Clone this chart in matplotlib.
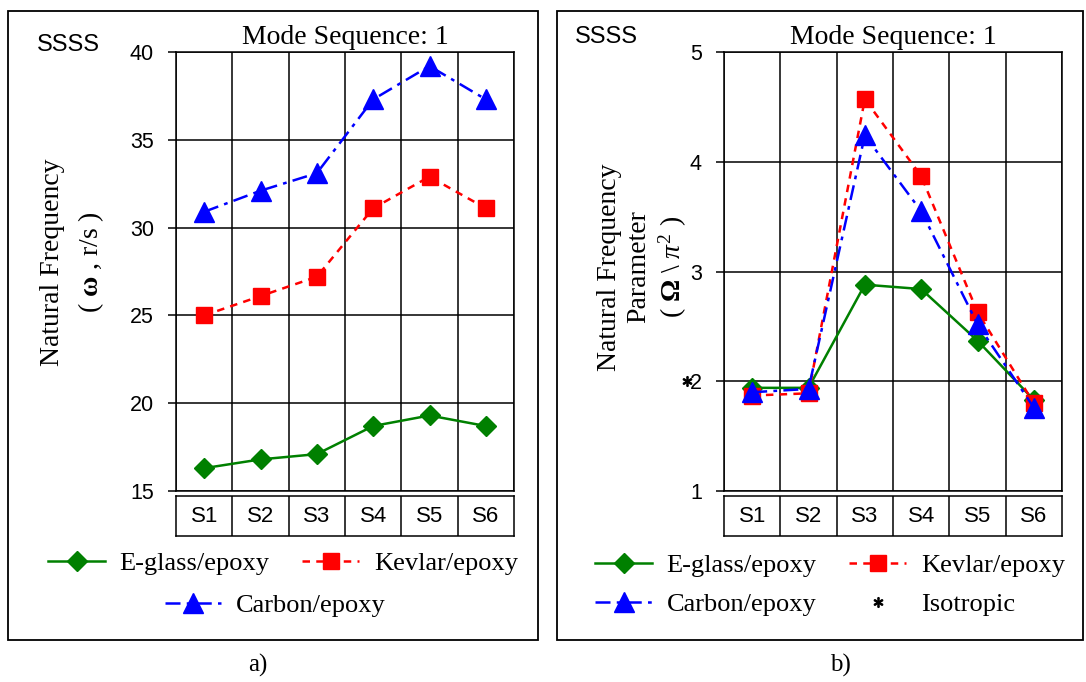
import matplotlib
matplotlib.use('Agg')
import matplotlib.pyplot as plt
from matplotlib.lines import Line2D
from matplotlib.patches import Rectangle
import numpy as np

plt.rcParams['font.family'] = ['Liberation Serif', 'DejaVu Serif']
plt.rcParams['mathtext.fontset'] = 'custom'
plt.rcParams['mathtext.rm'] = 'Liberation Serif'
plt.rcParams['mathtext.it'] = 'Liberation Serif:italic'
plt.rcParams['mathtext.bf'] = 'Liberation Serif:bold'

sequences = ['S1', 'S2', 'S3', 'S4', 'S5', 'S6']

# natural frequency (r/s)
freq_eglass = [16.3, 16.8, 17.1, 18.7, 19.3, 18.7]
freq_kevlar = [25.0, 26.1, 27.2, 31.1, 32.9, 31.1]
freq_carbon = [30.9, 32.1, 33.1, 37.3, 39.2, 37.3]

# natural frequency parameter (Omega / pi^2)
param_eglass = [1.94, 1.94, 2.88, 2.84, 2.37, 1.83]
param_kevlar = [1.87, 1.89, 4.57, 3.87, 2.63, 1.80]
param_carbon = [1.90, 1.93, 4.24, 3.55, 2.52, 1.76]
param_isotropic = 2.0

GREEN = '#008000'
RED = '#ff0000'
BLUE = '#0000ff'
SANS = 'Liberation Sans'
FS = 19

W, H = 1086, 682
fig = plt.figure(figsize=(W / 100, H / 100), dpi=100)


def px(x0, y0, x1, y1):
    return [x0 / W, 1 - y1 / H, (x1 - x0) / W, (y1 - y0) / H]


# panel frames
for x0, x1 in [(8, 538), (557, 1083)]:
    fig.patches.append(Rectangle((x0 / W, 1 - 640 / H), (x1 - x0) / W, 629 / H,
                                 transform=fig.transFigure, fill=False,
                                 edgecolor='black', lw=1.3))

styles = {
    'E-glass/epoxy': dict(color=GREEN, ls='-', marker='D', ms=10, lw=1.8),
    'Kevlar/epoxy': dict(color=RED, ls=(0, (3, 2.5)), marker='s', ms=12, lw=1.8),
    'Carbon/epoxy': dict(color=BLUE, ls=(0, (6, 2.5, 1.5, 2.5)), marker='^', ms=14, lw=1.8),
}


def make_panel(x0, yticks, ylim, series, ticklabels):
    ax = fig.add_axes(px(x0, 52, x0 + 338, 491))
    xs = np.arange(len(sequences)) + 0.5
    for name, vals in series:
        ax.plot(xs, vals, label=name, clip_on=False, zorder=3, **styles[name])
    ax.set_xlim(0, 6)
    ax.set_ylim(*ylim)
    ax.set_yticks(yticks)
    ax.set_yticklabels(ticklabels, fontfamily=SANS, fontsize=15.5)
    ax.set_xticks(range(7))
    ax.tick_params(axis='x', length=0, labelbottom=False)
    ax.tick_params(axis='y', length=6, width=1.1, pad=10)
    ax.grid(True, color='black', lw=1.1)
    for s in ax.spines.values():
        s.set_linewidth(1.1)
    ax.set_title('Mode Sequence: 1', fontsize=FS + 1, pad=6)

    # category table under the plot
    tab = fig.add_axes(px(x0, 496, x0 + 338, 536))
    tab.set_xlim(0, 6)
    tab.set_ylim(0, 1)
    tab.set_xticks([])
    tab.set_yticks([])
    for s in tab.spines.values():
        s.set_linewidth(1.1)
    for i, lab in enumerate(sequences):
        if i > 0:
            tab.axvline(i, color='black', lw=1.1)
        tab.text(i + 0.5, 0.5, lab, ha='center', va='center',
                 fontfamily=SANS, fontsize=16)
    return ax


h = {n: Line2D([], [], **st) for n, st in styles.items()}
leg_kw = dict(frameon=False, fontsize=FS, handlelength=2.15, handletextpad=0.55,
              borderaxespad=0, borderpad=0, columnspacing=1.25)

# a) natural frequency
ax1 = make_panel(176, [15, 20, 25, 30, 35, 40], (15, 40),
                 [('E-glass/epoxy', freq_eglass), ('Kevlar/epoxy', freq_kevlar),
                  ('Carbon/epoxy', freq_carbon)],
                 ['15', '20', '25', '30', '35', '40'])
fig.text(37 / W, 1 - 45 / H, 'SSSS', fontfamily=SANS, fontsize=17, va='center')
fig.text(73 / W, 1 - 262 / H, 'Natural Frequency\n( $\\mathbf{\\omega}$ , r/s )',
         rotation=90, ha='center', va='center', multialignment='center',
         fontsize=FS + 1, linespacing=1.5)

lg1 = ax1.legend([h['E-glass/epoxy'], h['Kevlar/epoxy']],
                 ['E-glass/epoxy', 'Kevlar/epoxy'], ncol=2, loc='center',
                 bbox_to_anchor=(283 / W, 1 - 563 / H),
                 bbox_transform=fig.transFigure, **leg_kw)
ax1.add_artist(lg1)
ax1.legend([h['Carbon/epoxy']], ['Carbon/epoxy'], loc='center',
           bbox_to_anchor=(275 / W, 1 - 605 / H),
           bbox_transform=fig.transFigure, **leg_kw)

# b) natural frequency parameter
ax2 = make_panel(724, [1, 2, 3, 4, 5], (1, 5),
                 [('E-glass/epoxy', param_eglass), ('Kevlar/epoxy', param_kevlar),
                  ('Carbon/epoxy', param_carbon)],
                 ['1', '2', '3', '4', '5'])
fig.text(575 / W, 1 - 37 / H, 'SSSS', fontfamily=SANS, fontsize=17, va='center')
fig.text(643 / W, 1 - 267 / H,
         'Natural Frequency\nParameter\n( $\\mathbf{\\Omega}$ \\ $\\pi^2$ )',
         rotation=90, ha='center', va='center', multialignment='center',
         fontsize=FS + 1, linespacing=1.25)
# isotropic reference value next to the axis
iso_tr = matplotlib.transforms.blended_transform_factory(ax2.transAxes, ax2.transData)
ax2.plot([-0.11], [param_isotropic], marker='$\\ast$', color='black', ms=7,
         ls='none', transform=iso_tr, clip_on=False)

iso = Line2D([], [], marker='$\\ast$', color='black', ms=7, ls='none')
ax2.legend([h['E-glass/epoxy'], h['Carbon/epoxy'], h['Kevlar/epoxy'], iso],
           ['E-glass/epoxy', 'Carbon/epoxy', 'Kevlar/epoxy', 'Isotropic'],
           ncol=2, loc='center', bbox_to_anchor=(830 / W, 1 - 585 / H),
           bbox_transform=fig.transFigure, labelspacing=0.6, **leg_kw)

fig.text(258 / W, 1 - 665 / H, 'a)', fontsize=18, ha='center', va='center')
fig.text(840 / W, 1 - 665 / H, 'b)', fontsize=18, ha='center', va='center')

fig.savefig('out.png', dpi=100, facecolor='white')
